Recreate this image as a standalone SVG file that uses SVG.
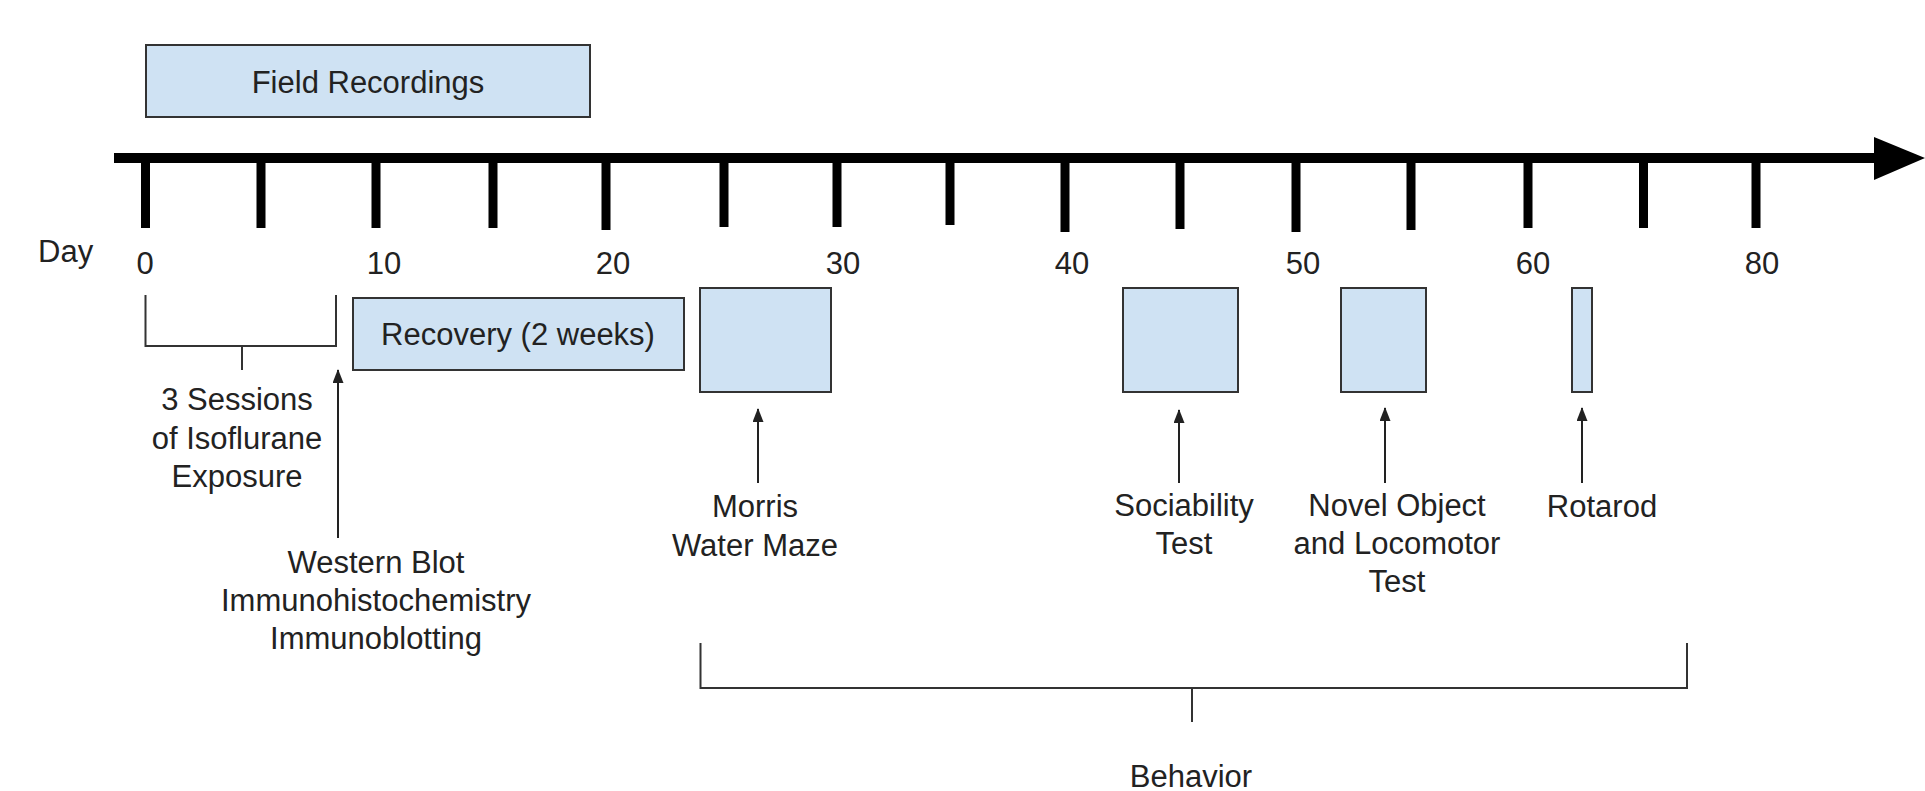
<svg xmlns="http://www.w3.org/2000/svg" width="1925" height="791" viewBox="0 0 1925 791">
<defs>
<style>
.t{font-family:"Liberation Sans",Arial,sans-serif;font-size:31px;fill:#222;text-anchor:middle}
.box{fill:#cfe2f3;stroke:#333;stroke-width:2}
.tick{stroke:#000;stroke-width:9;fill:none}
.thin{stroke:#333;stroke-width:2;fill:none}
.arr{stroke:#222;stroke-width:2;fill:none;marker-end:url(#ah)}
</style>
<marker id="ah" viewBox="0 0 14 11" refX="13" refY="5.5" markerWidth="14" markerHeight="11" markerUnits="userSpaceOnUse" orient="auto">
<path d="M0,0 L14,5.5 L0,11 Z" fill="#222"/>
</marker>
</defs>
<rect width="1925" height="791" fill="#fff"/>

<g id="timeline">
<line x1="114" y1="158" x2="1880" y2="158" stroke="#000" stroke-width="10"/>
<polygon points="1874,137 1925,158 1874,180" fill="#000"/>
<path class="tick" d="M145.5,158V228 M261,158V228 M376,158V228 M493,158V228 M606,158V230 M724,158V227 M837,158V227 M950,158V225 M1065,158V232 M1180,158V229 M1296,158V232 M1411,158V230 M1528,158V228 M1643.5,158V228 M1756,158V228"/>
<text class="t" x="38" y="262" style="text-anchor:start">Day</text>
<text class="t" x="145" y="274">0</text>
<text class="t" x="384" y="274">10</text>
<text class="t" x="613" y="274">20</text>
<text class="t" x="843" y="274">30</text>
<text class="t" x="1072" y="274">40</text>
<text class="t" x="1303" y="274">50</text>
<text class="t" x="1533" y="274">60</text>
<text class="t" x="1762" y="274">80</text>
</g>

<g id="field-recordings">
<rect class="box" x="146" y="45" width="444" height="72"/>
<text class="t" x="368" y="93">Field Recordings</text>
</g>

<g id="recovery">
<rect class="box" x="353" y="298" width="331" height="72"/>
<text class="t" x="518" y="345">Recovery (2 weeks)</text>
</g>

<g id="isoflurane">
<text class="t" x="237" y="410">3 Sessions</text>
<text class="t" x="237" y="448.5">of Isoflurane</text>
<text class="t" x="237" y="487">Exposure</text>
</g>

<g id="western-blot">
<text class="t" x="376" y="573">Western Blot</text>
<text class="t" x="376" y="611">Immunohistochemistry</text>
<text class="t" x="376" y="649">Immunoblotting</text>
</g>

<g id="morris">
<rect class="box" x="700" y="288" width="131" height="104"/>
<text class="t" x="755" y="517">Morris</text>
<text class="t" x="755" y="556">Water Maze</text>
</g>

<g id="sociability">
<rect class="box" x="1123" y="288" width="115" height="104"/>
<text class="t" x="1184" y="516">Sociability</text>
<text class="t" x="1184" y="554">Test</text>
</g>

<g id="novel-object">
<rect class="box" x="1341" y="288" width="85" height="104"/>
<text class="t" x="1397" y="516">Novel Object</text>
<text class="t" x="1397" y="554">and Locomotor</text>
<text class="t" x="1397" y="592">Test</text>
</g>

<g id="rotarod">
<rect class="box" x="1572" y="288" width="20" height="104"/>
<text class="t" x="1602" y="517">Rotarod</text>
</g>

<g id="behavior">
<text class="t" x="1191" y="787">Behavior</text>
</g>

<g id="connectors">
<path class="thin" d="M145.5,295V346H336V295 M242,346V370"/>
<path class="thin" d="M700.5,643V688H1687V643 M1192,688V722"/>
<line class="arr" x1="338" y1="538" x2="338" y2="370"/>
<line class="arr" x1="758" y1="483" x2="758" y2="409"/>
<line class="arr" x1="1179" y1="483" x2="1179" y2="410"/>
<line class="arr" x1="1385" y1="483" x2="1385" y2="408"/>
<line class="arr" x1="1582" y1="483" x2="1582" y2="408"/>
</g>
</svg>
